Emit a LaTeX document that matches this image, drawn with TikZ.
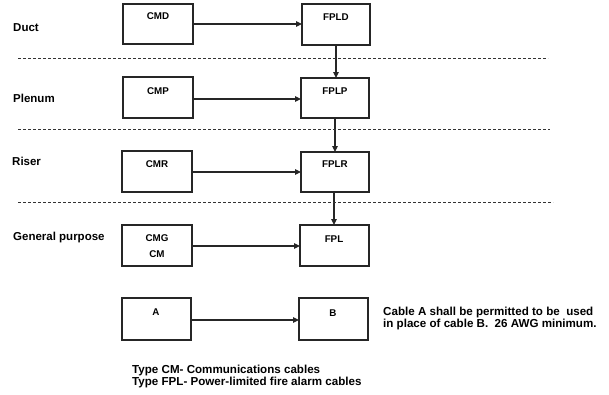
\documentclass[tikz,border=0pt]{standalone}
\usepackage{fontspec}
\setmainfont{Liberation Sans}
\usetikzlibrary{arrows.meta}
\begin{document}
\begin{tikzpicture}[x=1pt,y=-1pt,
  box/.style={draw=black!85,line width=1.4pt},
  blab/.style={font=\bfseries\fontsize{9.8}{10}\selectfont,anchor=base,inner sep=0},
  side/.style={font=\bfseries\fontsize{11.5}{12}\selectfont,anchor=base west,inner sep=0},
  note/.style={font=\bfseries\fontsize{11.6}{12}\selectfont,anchor=base west,inner sep=0},
  conn/.style={line width=1.1pt,draw=black!85,-{Triangle[length=6pt,width=5.5pt]}},
  sep/.style={line width=0.6pt,draw=black!80,dash pattern=on 3pt off 2pt}]
\useasboundingbox (0,0) rectangle (609,394);
% boxes
\draw[box] (123,4) rectangle (193,44);
\node[blab] (cmd) at (158,19.5) {CMD};
\draw[box] (302,4) rectangle (370,45);
\node[blab] (fpld) at (336,20) {FPLD};
\draw[box] (123,77) rectangle (193,118);
\node[blab] (cmp) at (158,94) {CMP};
\draw[box] (301,78) rectangle (369,118);
\node[blab] (fplp) at (335,94) {FPLP};
\draw[box] (122,151) rectangle (192,192);
\node[blab] (cmr) at (157,167) {CMR};
\draw[box] (301,152) rectangle (369,192);
\node[blab] (fplr) at (335,167) {FPLR};
\draw[box] (122,225) rectangle (192,266);
\node[blab] (cmg) at (157,241) {CMG};
\node[blab] (cm) at (157,257) {CM};
\draw[box] (300,225) rectangle (369,266);
\node[blab] (fpl) at (334,242) {FPL};
\draw[box] (122,298) rectangle (191,340);
\node[blab] (a) at (156,315) {A};
\draw[box] (299,298) rectangle (368,340);
\node[blab] (b) at (333,316) {B};
% named anchors
\coordinate (cmdR) at (193,24); \coordinate (fpldL) at (302,24);
\coordinate (cmpR) at (193,99); \coordinate (fplpL) at (301,99);
\coordinate (cmrR) at (192,172); \coordinate (fplrL) at (301,172);
\coordinate (cmgR) at (192,246); \coordinate (fplL) at (300,246);
\coordinate (aR) at (191,320); \coordinate (bL) at (299,320);
\coordinate (fpldB) at (336,45); \coordinate (fplpT) at (336,78);
\coordinate (fplpB) at (335,118); \coordinate (fplrT) at (335,152);
\coordinate (fplrB) at (334,192); \coordinate (fplT) at (334,225);
% connectors
\draw[conn] (cmdR) -- (fpldL);
\draw[conn] (cmpR) -- (fplpL);
\draw[conn] (cmrR) -- (fplrL);
\draw[conn] (cmgR) -- (fplL);
\draw[conn] (aR) -- (bL);
\draw[conn] (fpldB) -- (fplpT);
\draw[conn] (fplpB) -- (fplrT);
\draw[conn] (fplrB) -- (fplT);
% separators
\draw[sep] (18,58) -- (548,58);
\draw[sep] (18,129) -- (550,129);
\draw[sep] (18,202) -- (553,202);
% side labels
\node[side] (duct) at (13,31) {Duct};
\node[side] (plenum) at (13,102) {Plenum};
\node[side] (riser) at (12,165) {Riser};
\node[side] (gp) at (13,240) {General purpose};
% notes
\node[note] (n1) at (383,315) {Cable A shall be permitted to be\ \ used};
\node[note] (n2) at (383,327) {in place of cable B.\ \ 26 AWG minimum.};
\node[note] (t1) at (132,373) {Type CM- Communications cables};
\node[note] (t2) at (132,385) {Type FPL- Power-limited fire alarm cables};
\end{tikzpicture}
\end{document}
